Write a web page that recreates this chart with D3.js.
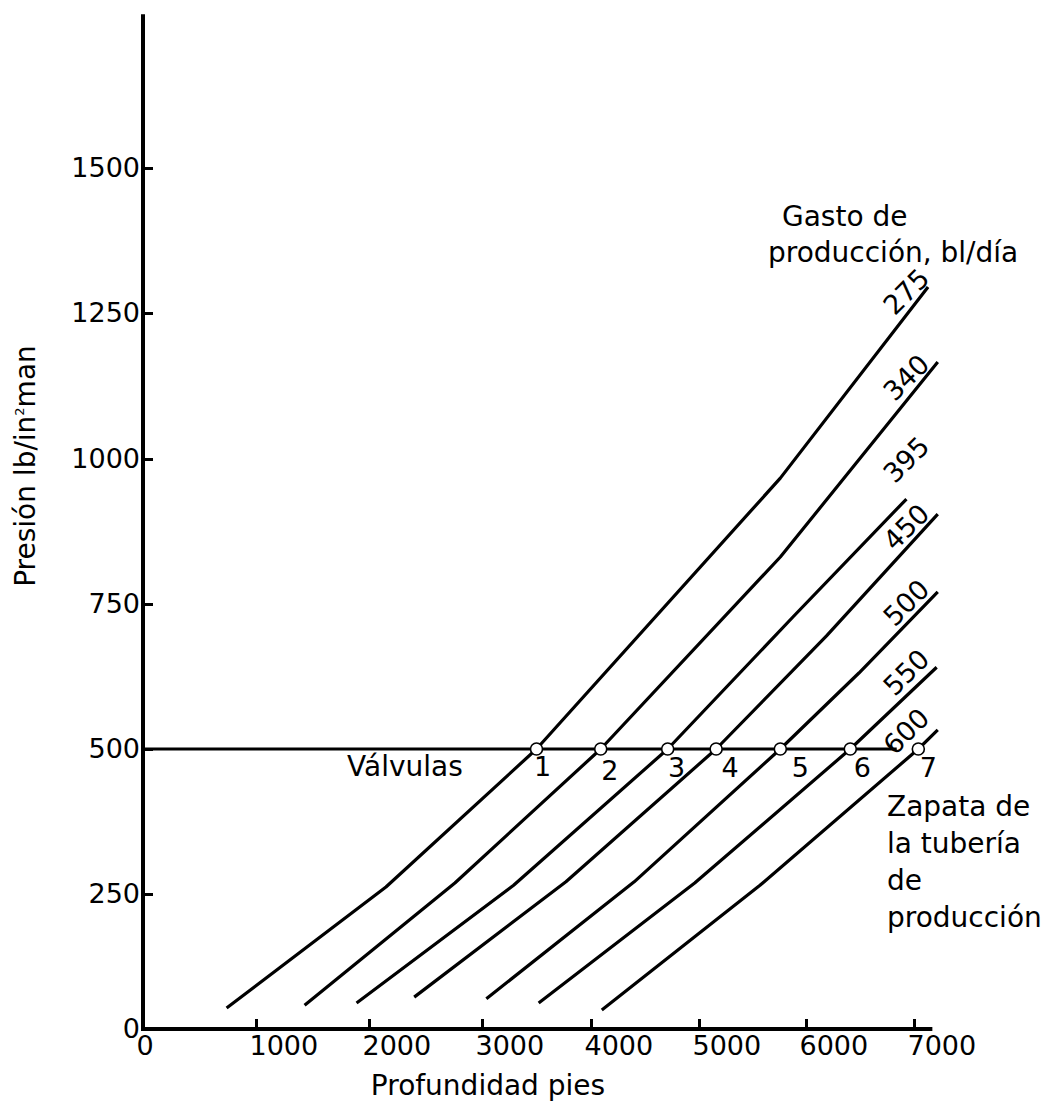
<!DOCTYPE html>
<html>
<head>
<meta charset="utf-8">
<script src="https://cdn.jsdelivr.net/npm/d3@7"></script>
<style>
body{margin:0;background:#fff;}
text{font-family:"DejaVu Sans",Verdana,sans-serif;fill:#000;}
</style>
</head>
<body>
<svg width="1047" height="1101"></svg>
<script>
// ejes
var xTicks = [0, 1000, 2000, 3000, 4000, 5000, 6000, 7000];
var yTicks = [0, 250, 500, 750, 1000, 1250, 1500];
var xAxisMax = 7170;
var yAxisMax = 1765;

// gasto de produccion (bl/dia) y curvas [profundidad pies, presion lb/in2]
var rates = [275, 340, 395, 450, 500, 550, 600];
var c275 = [[740, 39], [2150, 262], [3500, 500], [5760, 967], [7130, 1295]];
var c340 = [[1430, 44], [2760, 269], [4090, 500], [5760, 831], [7220, 1166]];
var c395 = [[1890, 48], [3290, 265], [4710, 500], [5880, 728], [6930, 931]];
var c450 = [[2400, 59], [3770, 271], [5160, 500], [6190, 695], [7220, 905]];
var c500 = [[3040, 56], [4400, 271], [5760, 500], [6490, 631], [7220, 771]];
var c550 = [[3520, 48], [4960, 269], [6410, 500], [7210, 641]];
var c600 = [[4100, 35], [5570, 265], [7040, 500], [7220, 533]];
var curves = [c275, c340, c395, c450, c500, c550, c600];

// valvulas
var valveNames = ["1", "2", "3", "4", "5", "6", "7"];
var valveDepth = [3500, 4090, 4710, 5160, 5760, 6410, 7040];
var valvePressure = 500;
var valveLineEnd = 6840;

var svg = d3.select('svg');

// escalas (siguen las marcas del dibujo original)
var xScale = d3.scaleLinear().domain(xTicks).range([143, 256, 369, 482, 591, 699, 806, 914]);
var yScale = d3.scaleLinear().domain(yTicks).range([1029, 894, 749, 604, 459, 313, 168]);

// eje x
var xAxis = d3.axisBottom(xScale).tickValues(xTicks).tickFormat(d3.format('d')).tickSize(-10).tickPadding(7);
var xAxisGroup = svg.append('g')
    .attr('transform', 'translate(0,' + yScale(0) + ')')
    .call(xAxis);
xAxisGroup.select('.domain').remove();
xAxisGroup.selectAll('line').attr('stroke', '#000').attr('stroke-width', 3);
xAxisGroup.selectAll('text')
    .attr('text-anchor', 'start')
    .attr('x', -7)
    .style('font-size', '27px');

// eje y
var yAxis = d3.axisLeft(yScale).tickValues(yTicks).tickFormat(d3.format('d')).tickSize(-10).tickPadding(3);
var yAxisGroup = svg.append('g')
    .attr('transform', 'translate(' + xScale(0) + ',0)')
    .call(yAxis);
yAxisGroup.select('.domain').remove();
yAxisGroup.selectAll('line').attr('stroke', '#000').attr('stroke-width', 3);
yAxisGroup.selectAll('text').style('font-size', '27px');
yAxisGroup.selectAll('.tick').filter(d => d === 0).select('line').remove();
xAxisGroup.selectAll('.tick').filter(d => d === 0).select('line').remove();

svg.append('line')
    .attr('x1', xScale(0)).attr('x2', xScale(xAxisMax))
    .attr('y1', yScale(0)).attr('y2', yScale(0))
    .attr('stroke', '#000').attr('stroke-width', 4);
svg.append('line')
    .attr('x1', xScale(0)).attr('x2', xScale(0))
    .attr('y1', yScale(0) + 2).attr('y2', yScale(yAxisMax))
    .attr('stroke', '#000').attr('stroke-width', 4);

// titulos de ejes
svg.append('text')
    .attr('x', 488).attr('y', 1095)
    .attr('text-anchor', 'middle')
    .style('font-size', '28px')
    .text('Profundidad pies');

var yTitle = svg.append('text')
    .attr('transform', 'translate(35,466) rotate(-90)')
    .attr('text-anchor', 'middle')
    .style('font-size', '28px');
yTitle.append('tspan').text('Presión lb/in');
yTitle.append('tspan').attr('dy', -11).style('font-size', '13px').text('2');
yTitle.append('tspan').attr('dy', 11).text('man');

// linea de valvulas
svg.append('line')
    .attr('x1', xScale(0)).attr('x2', xScale(valveLineEnd))
    .attr('y1', yScale(valvePressure)).attr('y2', yScale(valvePressure))
    .attr('stroke', '#000').attr('stroke-width', 3);

// curvas
var line = d3.line()
    .x(d => xScale(d[0]))
    .y(d => yScale(d[1]));

svg.selectAll('path.curve')
    .data(curves)
    .enter()
    .append('path')
    .attr('class', 'curve')
    .attr('d', line)
    .attr('fill', 'none')
    .attr('stroke', '#000')
    .attr('stroke-width', 3.2)
    .attr('stroke-linejoin', 'round');

// etiquetas de gasto, sobre la prolongacion del ultimo tramo
var labelX = 906;
var labelLift = [24, 24, 40, 22, 22, 24, 30];
curves.forEach(function(c, i) {
    var p1 = c[c.length - 2], p2 = c[c.length - 1];
    var x1 = xScale(p1[0]), y1 = yScale(p1[1]);
    var x2 = xScale(p2[0]), y2 = yScale(p2[1]);
    var yAt = y2 + (labelX - x2) * (y2 - y1) / (x2 - x1);
    svg.append('text')
        .attr('transform', 'translate(' + labelX + ',' + (yAt - labelLift[i]) + ') rotate(-45)')
        .attr('text-anchor', 'middle')
        .attr('dy', '0.36em')
        .style('font-size', '27px')
        .text(rates[i]);
});

// valvulas
svg.selectAll('circle.valve')
    .data(valveDepth)
    .enter()
    .append('circle')
    .attr('class', 'valve')
    .attr('cx', d => xScale(d))
    .attr('cy', yScale(valvePressure))
    .attr('r', 6)
    .attr('fill', '#fff')
    .attr('stroke', '#000')
    .attr('stroke-width', 1.6);

var valveLabelDx = [6, 9, 9, 14, 20, 12, 10];
var valveLabelDy = [27, 31, 28, 28, 28, 28, 28];
svg.selectAll('text.valve')
    .data(valveDepth)
    .enter()
    .append('text')
    .attr('class', 'valve')
    .attr('x', (d, i) => xScale(d) + valveLabelDx[i])
    .attr('y', (d, i) => yScale(valvePressure) + valveLabelDy[i])
    .attr('text-anchor', 'middle')
    .style('font-size', '27px')
    .text((d, i) => valveNames[i]);

svg.append('text')
    .attr('x', 347).attr('y', 776)
    .style('font-size', '28px')
    .text('Válvulas');

// anotaciones
var gastoLines = ['Gasto de', 'producción, bl/día'];
var gastoX = [782, 768];
svg.selectAll('text.gasto')
    .data(gastoLines)
    .enter()
    .append('text')
    .attr('class', 'gasto')
    .attr('x', (d, i) => gastoX[i])
    .attr('y', (d, i) => 226 + i * 36)
    .style('font-size', '28px')
    .text(d => d);

var zapataLines = ['Zapata de', 'la tubería', 'de', 'producción'];
svg.selectAll('text.zapata')
    .data(zapataLines)
    .enter()
    .append('text')
    .attr('class', 'zapata')
    .attr('x', 887)
    .attr('y', (d, i) => 816 + i * 37)
    .style('font-size', '28px')
    .text(d => d);
</script>
</body>
</html>
